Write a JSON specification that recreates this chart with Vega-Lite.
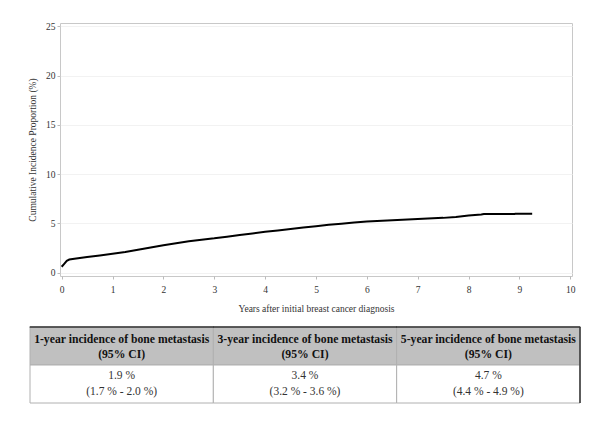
{
  "$schema": "https://vega.github.io/schema/vega-lite/v6.json",
  "padding": {"left": 27, "top": 20, "right": 5, "bottom": 5},
  "spacing": 12,
  "background": "white",
  "config": {
    "font": "Liberation Serif",
    "view": {"stroke": "#c8c8c8"},
    "axis": {
      "labelFont": "Liberation Serif",
      "titleFont": "Liberation Serif",
      "labelFontSize": 9.5,
      "titleFontSize": 9.5,
      "titleFontWeight": "normal",
      "labelColor": "#333333",
      "titleColor": "#333333",
      "tickColor": "#bbbbbb",
      "tickSize": 3,
      "domain": false
    }
  },
  "vconcat": [
    {
      "width": 512,
      "height": 253,
      "data": {"values": [
        {"years": 0, "cip": 0.6},
        {"years": 0.05, "cip": 0.9},
        {"years": 0.1, "cip": 1.2},
        {"years": 0.15, "cip": 1.33},
        {"years": 0.25, "cip": 1.42},
        {"years": 0.5, "cip": 1.6},
        {"years": 0.75, "cip": 1.75},
        {"years": 1.0, "cip": 1.92},
        {"years": 1.25, "cip": 2.1},
        {"years": 1.5, "cip": 2.32},
        {"years": 1.75, "cip": 2.55},
        {"years": 2.0, "cip": 2.78},
        {"years": 2.25, "cip": 2.98},
        {"years": 2.5, "cip": 3.18},
        {"years": 2.75, "cip": 3.35},
        {"years": 3.0, "cip": 3.48},
        {"years": 3.25, "cip": 3.65},
        {"years": 3.5, "cip": 3.82},
        {"years": 3.75, "cip": 3.98},
        {"years": 4.0, "cip": 4.15},
        {"years": 4.25, "cip": 4.28},
        {"years": 4.5, "cip": 4.42},
        {"years": 4.75, "cip": 4.58},
        {"years": 5.0, "cip": 4.72},
        {"years": 5.25, "cip": 4.85},
        {"years": 5.5, "cip": 4.97},
        {"years": 5.75, "cip": 5.08},
        {"years": 6.0, "cip": 5.18},
        {"years": 6.5, "cip": 5.32},
        {"years": 7.0, "cip": 5.45},
        {"years": 7.5, "cip": 5.56},
        {"years": 7.75, "cip": 5.66},
        {"years": 8.0, "cip": 5.8},
        {"years": 8.25, "cip": 5.9},
        {"years": 8.3, "cip": 5.95},
        {"years": 8.9, "cip": 5.95},
        {"years": 8.92, "cip": 5.98},
        {"years": 9.25, "cip": 5.98}
      ]},
      "mark": {"type": "line", "color": "black", "strokeWidth": 2},
      "encoding": {
        "x": {
          "field": "years", "type": "quantitative",
          "scale": {"domain": [-0.033, 10.033], "nice": false, "zero": false},
          "axis": {"values": [0,1,2,3,4,5,6,7,8,9,10], "title": "Years after initial breast cancer diagnosis", "grid": false, "labelPadding": 5, "titlePadding": 10, "labelFlush": false}
        },
        "y": {
          "field": "cip", "type": "quantitative",
          "scale": {"domain": [-0.34, 25.34], "nice": false, "zero": false},
          "axis": {"values": [0,5,10,15,20,25], "title": "Cumulative Incidence Proportion (%)", "grid": true, "gridColor": "#f2f2f2", "labelPadding": 2, "titlePadding": 8}
        }
      }
    },
    {
      "width": 512,
      "height": 76,
      "view": {"stroke": null},
      "data": {"values": [
        {"row": "header", "col": "c1", "text": "1-year incidence of bone metastasis\n(95% CI)"},
        {"row": "header", "col": "c2", "text": "3-year incidence of bone metastasis\n(95% CI)"},
        {"row": "header", "col": "c3", "text": "5-year incidence of bone metastasis\n(95% CI)"},
        {"row": "body", "col": "c1", "text": "1.9 %\n(1.7 % - 2.0 %)"},
        {"row": "body", "col": "c2", "text": "3.4 %\n(3.2 % - 3.6 %)"},
        {"row": "body", "col": "c3", "text": "4.7 %\n(4.4 % - 4.9 %)"}
      ]},
      "encoding": {
        "x": {"field": "col", "type": "ordinal", "scale": {"range": [-30, 520], "paddingInner": 0, "paddingOuter": 0}, "axis": null},
        "y": {"field": "row", "type": "ordinal", "sort": ["header", "body"], "scale": {"paddingInner": 0, "paddingOuter": 0}, "axis": null}
      },
      "layer": [
        {
          "mark": {"type": "rect", "stroke": "#b0b0b0", "strokeWidth": 1},
          "encoding": {
            "fill": {"field": "row", "type": "nominal", "scale": {"domain": ["header", "body"], "range": ["#c0c0c0", "#ffffff"]}, "legend": null}
          }
        },
        {
          "transform": [{"filter": "datum.row === 'header'"}],
          "mark": {"type": "tick", "orient": "horizontal", "size": 184, "thickness": 1.5, "color": "#333333", "opacity": 1},
          "encoding": {
            "y": {"field": "row", "type": "ordinal", "sort": ["header", "body"], "bandPosition": 0}
          }
        },
        {
          "transform": [{"filter": "datum.col === 'c3'"}],
          "mark": {"type": "tick", "orient": "vertical", "size": 38, "thickness": 1.5, "color": "#333333", "opacity": 1},
          "encoding": {
            "x": {"field": "col", "type": "ordinal", "bandPosition": 1}
          }
        },
        {
          "transform": [{"filter": "datum.row === 'header'"}],
          "mark": {"type": "text", "fontWeight": "bold", "fontSize": 11.7, "lineBreak": "\n", "lineHeight": 15, "baseline": "middle", "dy": -7.5, "color": "#111111"},
          "encoding": {"text": {"field": "text"}}
        },
        {
          "transform": [{"filter": "datum.row === 'body'"}],
          "mark": {"type": "text", "fontSize": 11.5, "lineBreak": "\n", "lineHeight": 16, "baseline": "middle", "dy": -8, "color": "#333333"},
          "encoding": {"text": {"field": "text"}}
        }
      ]
    }
  ]
}
